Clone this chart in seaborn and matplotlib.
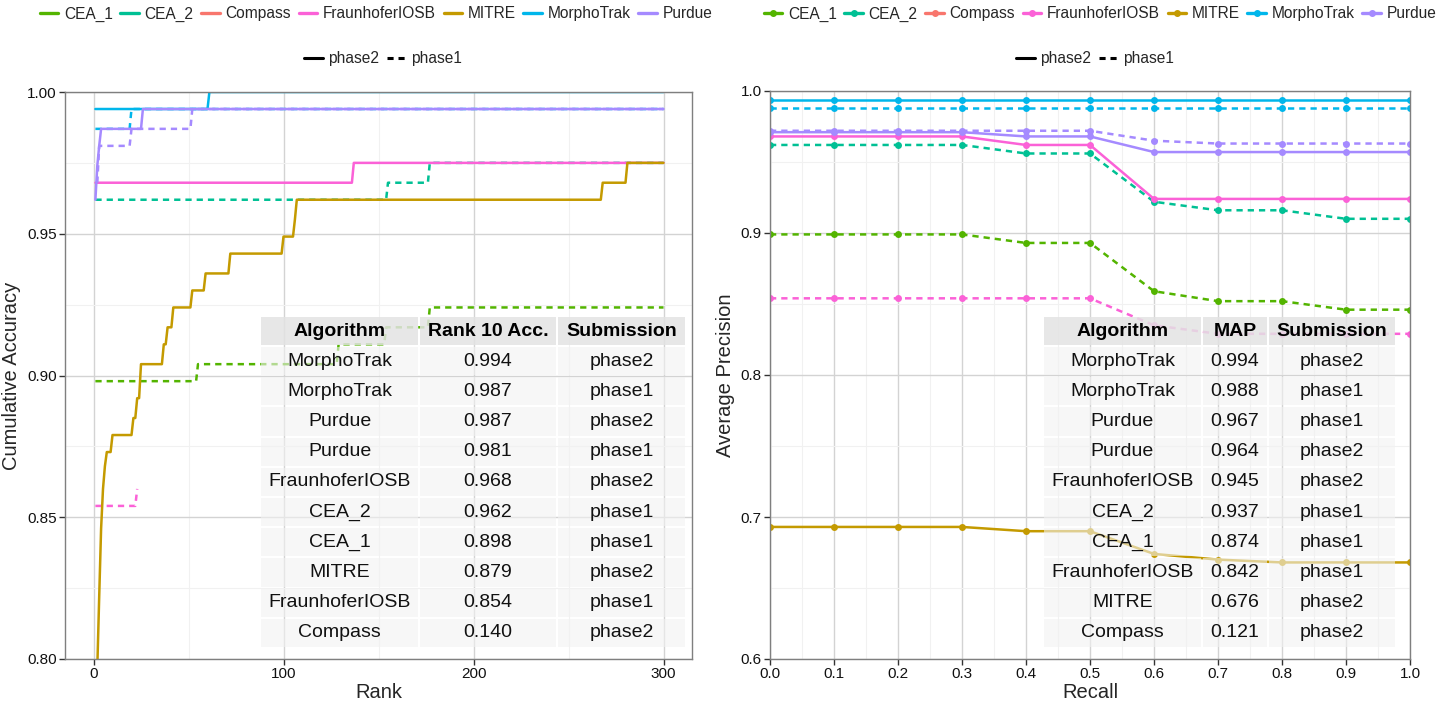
import pandas as pd
import seaborn as sns
import matplotlib.pyplot as plt
from matplotlib.lines import Line2D
from matplotlib.patches import Rectangle
from matplotlib.ticker import AutoMinorLocator, FormatStrFormatter

sns.set_theme(style='white')
plt.rcParams['font.family'] = ['Liberation Sans', 'DejaVu Sans']

W, H = 1446, 706

algorithms = ['CEA_1', 'CEA_2', 'Compass', 'FraunhoferIOSB', 'MITRE', 'MorphoTrak', 'Purdue']
colors = ['#53B400', '#00C094', '#F8766D', '#FB61D7', '#C49A00', '#00B6EB', '#A58AFF']
palette = dict(zip(algorithms, colors))
submissions = ['phase2', 'phase1']

# --- CMC curves: rank where accuracy changes, and the new accuracy ---
max_rank = 300
morpho_p2_rank = [1, 61]
morpho_p2_acc = [0.994, 1.0]
morpho_p1_rank = [1, 20]
morpho_p1_acc = [0.987, 0.994]
purdue_p2_rank = [1, 2, 3, 4, 26]
purdue_p2_acc = [0.962, 0.974, 0.981, 0.987, 0.994]
purdue_p1_rank = [2, 3, 20, 52]
purdue_p1_acc = [0.968, 0.981, 0.987, 0.994]
fraun_p2_rank = [1, 137]
fraun_p2_acc = [0.968, 0.975]
fraun_p1_rank = [1, 23]
fraun_p1_acc = [0.854, 0.860]
fraun_p1_last = 23
cea2_p1_rank = [1, 155, 177]
cea2_p1_acc = [0.962, 0.968, 0.975]
cea1_p1_rank = [1, 55, 129, 154, 177]
cea1_p1_acc = [0.898, 0.904, 0.911, 0.917, 0.924]
mitre_p2_rank = [1, 2, 3, 4, 5, 6, 7, 10, 21, 23, 25, 37, 39, 42, 52, 59, 72, 100, 106, 107, 268, 281]
mitre_p2_acc = [0.770, 0.797, 0.822, 0.846, 0.860, 0.868, 0.873, 0.879, 0.885, 0.892, 0.904,
                0.911, 0.917, 0.924, 0.930, 0.936, 0.943, 0.949, 0.955, 0.962, 0.968, 0.975]

# --- precision / recall ---
recall = [0.0, 0.1, 0.2, 0.3, 0.4, 0.5, 0.6, 0.7, 0.8, 0.9, 1.0]
ap_morpho_p2 = [0.994, 0.994, 0.994, 0.994, 0.994, 0.994, 0.994, 0.994, 0.994, 0.994, 0.994]
ap_morpho_p1 = [0.988, 0.988, 0.988, 0.988, 0.988, 0.988, 0.988, 0.988, 0.988, 0.988, 0.988]
ap_purdue_p1 = [0.972, 0.972, 0.972, 0.972, 0.972, 0.972, 0.965, 0.963, 0.963, 0.963, 0.963]
ap_purdue_p2 = [0.971, 0.971, 0.971, 0.971, 0.968, 0.968, 0.957, 0.957, 0.957, 0.957, 0.957]
ap_fraun_p2 = [0.968, 0.968, 0.968, 0.968, 0.962, 0.962, 0.924, 0.924, 0.924, 0.924, 0.924]
ap_cea2_p1 = [0.962, 0.962, 0.962, 0.962, 0.956, 0.956, 0.922, 0.916, 0.916, 0.910, 0.910]
ap_cea1_p1 = [0.899, 0.899, 0.899, 0.899, 0.893, 0.893, 0.859, 0.852, 0.852, 0.846, 0.846]
ap_fraun_p1 = [0.854, 0.854, 0.854, 0.854, 0.854, 0.854, 0.835, 0.829, 0.829, 0.829, 0.829]
ap_mitre_p2 = [0.693, 0.693, 0.693, 0.693, 0.690, 0.690, 0.674, 0.670, 0.668, 0.668, 0.668]

# --- tables ---
t1_alg = ['MorphoTrak', 'MorphoTrak', 'Purdue', 'Purdue', 'FraunhoferIOSB', 'CEA_2', 'CEA_1',
          'MITRE', 'FraunhoferIOSB', 'Compass']
t1_acc = ['0.994', '0.987', '0.987', '0.981', '0.968', '0.962', '0.898', '0.879', '0.854', '0.140']
t1_sub = ['phase2', 'phase1', 'phase2', 'phase1', 'phase2', 'phase1', 'phase1', 'phase2', 'phase1', 'phase2']
t2_alg = ['MorphoTrak', 'MorphoTrak', 'Purdue', 'Purdue', 'FraunhoferIOSB', 'CEA_2', 'CEA_1',
          'FraunhoferIOSB', 'MITRE', 'Compass']
t2_map = ['0.994', '0.988', '0.967', '0.964', '0.945', '0.937', '0.874', '0.842', '0.676', '0.121']
t2_sub = ['phase2', 'phase1', 'phase1', 'phase2', 'phase2', 'phase1', 'phase1', 'phase1', 'phase2', 'phase2']


def steps(ranks, accs, last):
    rows = []
    for i, (r, a) in enumerate(zip(ranks, accs)):
        if i > 0:
            rows.append((r - 1, accs[i - 1]))
        rows.append((r, a))
    rows.append((last, accs[-1]))
    return rows


cmc_series = [
    ('CEA_2', 'phase1', steps(cea2_p1_rank, cea2_p1_acc, max_rank)),
    ('CEA_1', 'phase1', steps(cea1_p1_rank, cea1_p1_acc, max_rank)),
    ('MITRE', 'phase2', steps(mitre_p2_rank, mitre_p2_acc, max_rank)),
    ('FraunhoferIOSB', 'phase2', steps(fraun_p2_rank, fraun_p2_acc, max_rank)),
    ('FraunhoferIOSB', 'phase1', steps(fraun_p1_rank, fraun_p1_acc, fraun_p1_last)),
    ('MorphoTrak', 'phase2', steps(morpho_p2_rank, morpho_p2_acc, max_rank)),
    ('MorphoTrak', 'phase1', steps(morpho_p1_rank, morpho_p1_acc, max_rank)),
    ('Purdue', 'phase2', steps(purdue_p2_rank, purdue_p2_acc, max_rank)),
    ('Purdue', 'phase1', steps(purdue_p1_rank, purdue_p1_acc, max_rank)),
]
rows = []
for alg, sub, pts in cmc_series:
    for r, a in pts:
        rows.append({'Rank': r, 'Accuracy': a, 'Algorithm': alg, 'Submission': sub})
cmc = pd.DataFrame(rows)

pr_series = [
    ('MITRE', 'phase2', ap_mitre_p2), ('FraunhoferIOSB', 'phase1', ap_fraun_p1),
    ('CEA_1', 'phase1', ap_cea1_p1), ('CEA_2', 'phase1', ap_cea2_p1),
    ('FraunhoferIOSB', 'phase2', ap_fraun_p2), ('Purdue', 'phase2', ap_purdue_p2),
    ('Purdue', 'phase1', ap_purdue_p1), ('MorphoTrak', 'phase1', ap_morpho_p1),
    ('MorphoTrak', 'phase2', ap_morpho_p2),
]
rows = []
for alg, sub, vals in pr_series:
    for rc, v in zip(recall, vals):
        rows.append({'Recall': rc, 'Precision': v, 'Algorithm': alg, 'Submission': sub})
pr = pd.DataFrame(rows)

fig = plt.figure(figsize=(W / 100, H / 100), dpi=100)


def box(x0, y0, x1, y1):
    # pixel box (top-left origin) -> figure fraction rect
    return [x0 / W, 1 - y1 / H, (x1 - x0) / W, (y1 - y0) / H]


ax1 = fig.add_axes(box(65, 92, 692, 659))
ax2 = fig.add_axes(box(770, 91, 1410, 659))

dash_map = {'phase2': '', 'phase1': (2.5, 2.0)}
sns.lineplot(data=cmc, x='Rank', y='Accuracy', hue='Algorithm', style='Submission',
             hue_order=algorithms, style_order=submissions, palette=palette,
             dashes=dash_map, estimator=None, sort=False,
             linewidth=1.8, legend=False, ax=ax1)
sns.lineplot(data=pr, x='Recall', y='Precision', hue='Algorithm', style='Submission',
             hue_order=algorithms, style_order=submissions, palette=palette,
             dashes=dash_map, markers={'phase2': 'o', 'phase1': 'o'},
             markersize=5, markeredgewidth=0, estimator=None, sort=False,
             linewidth=1.8, legend=False, ax=ax2)

ax1.set_xlim(-15, 315)
ax1.set_ylim(0.80, 1.00)
ax1.set_xticks([0, 100, 200, 300])
ax1.set_yticks([0.80, 0.85, 0.90, 0.95, 1.00])
ax1.yaxis.set_major_formatter(FormatStrFormatter('%.2f'))
ax1.set_xlabel('Rank')
ax1.set_ylabel('Cumulative Accuracy')

ax2.set_xlim(0, 1)
ax2.set_ylim(0.6, 1.0)
ax2.set_xticks([0.0, 0.1, 0.2, 0.3, 0.4, 0.5, 0.6, 0.7, 0.8, 0.9, 1.0])
ax2.set_yticks([0.6, 0.7, 0.8, 0.9, 1.0])
ax2.xaxis.set_major_formatter(FormatStrFormatter('%.1f'))
ax2.yaxis.set_major_formatter(FormatStrFormatter('%.1f'))
ax2.set_xlabel('Recall')
ax2.set_ylabel('Average Precision')

for ax in (ax1, ax2):
    ax.set_axisbelow(True)
    ax.xaxis.set_minor_locator(AutoMinorLocator(2))
    ax.yaxis.set_minor_locator(AutoMinorLocator(2))
    ax.grid(which='major', color='#d3d3d3', linewidth=1.0)
    ax.grid(which='minor', color='#f1f1f1', linewidth=0.8)
    for s in ax.spines.values():
        s.set_color('#7f7f7f')
        s.set_linewidth(1.0)
    ax.tick_params(which='major', direction='out', length=4, width=1, color='#333333',
                   labelsize=11, labelcolor='#111111', left=True, bottom=True, pad=2)
    ax.tick_params(which='minor', length=0)
    ax.xaxis.label.set_size(14.5)
    ax.yaxis.label.set_size(14.5)
    ax.xaxis.labelpad = 1
    ax.yaxis.labelpad = 4

# legends
alg_handles = [Line2D([], [], color=c, lw=2.4) for c in colors]
alg_handles_m = [Line2D([], [], color=c, lw=2.4, marker='o', markersize=4) for c in colors]
sub_handles = [Line2D([], [], color='black', lw=2.2),
               Line2D([], [], color='black', lw=2.2, dashes=(2.0, 1.6))]
leg_kw = dict(loc='center', frameon=False, fontsize=11.2, handlelength=1.2,
              handletextpad=0.35, columnspacing=0.5, borderpad=0)
fig.legend(alg_handles, algorithms, ncol=7, bbox_to_anchor=(376 / W, 1 - 14 / H), **leg_kw)
fig.legend(sub_handles, submissions, ncol=2, bbox_to_anchor=(383 / W, 1 - 59 / H), **leg_kw)
fig.legend(alg_handles_m, algorithms, ncol=7, bbox_to_anchor=(1100 / W, 1 - 14 / H), **leg_kw)
fig.legend(sub_handles, submissions, ncol=2, bbox_to_anchor=(1095 / W, 1 - 59 / H), **leg_kw)


def draw_table(ax, col_edges, header, cols, top=316, head_h=30, row_h=30.2):
    n = len(cols[0])
    for j in range(len(header)):
        x0, x1 = col_edges[j], col_edges[j + 1]
        ax.add_patch(Rectangle(box(x0 + 1, top + 1, x1 - 1, top + head_h - 1)[:2],
                               (x1 - x0 - 2) / W, (head_h - 2) / H, transform=fig.transFigure,
                               facecolor='#e3e3e3', alpha=0.85, edgecolor='none',
                               zorder=10, clip_on=False))
        ax.text((x0 + x1) / 2 / W, 1 - (top + head_h / 2) / H, header[j],
                transform=fig.transFigure, ha='center', va='center', fontsize=14,
                fontweight='bold', color='black', zorder=11)
        for i in range(n):
            y0 = top + head_h + i * row_h
            ax.add_patch(Rectangle(box(x0 + 1, y0 + 1, x1 - 1, y0 + row_h - 1)[:2],
                                   (x1 - x0 - 2) / W, (row_h - 2) / H, transform=fig.transFigure,
                                   facecolor='#f2f2f2', alpha=0.6, edgecolor='none',
                                   zorder=10, clip_on=False))
            ax.text((x0 + x1) / 2 / W, 1 - (y0 + row_h / 2) / H, cols[j][i],
                    transform=fig.transFigure, ha='center', va='center', fontsize=14,
                    color='#111111', zorder=11)


draw_table(ax1, [260, 419, 557, 686], ['Algorithm', 'Rank 10 Acc.', 'Submission'],
           [t1_alg, t1_acc, t1_sub])
draw_table(ax2, [1043, 1202, 1268, 1396], ['Algorithm', 'MAP', 'Submission'],
           [t2_alg, t2_map, t2_sub])

plt.savefig('out.png', dpi=100)
